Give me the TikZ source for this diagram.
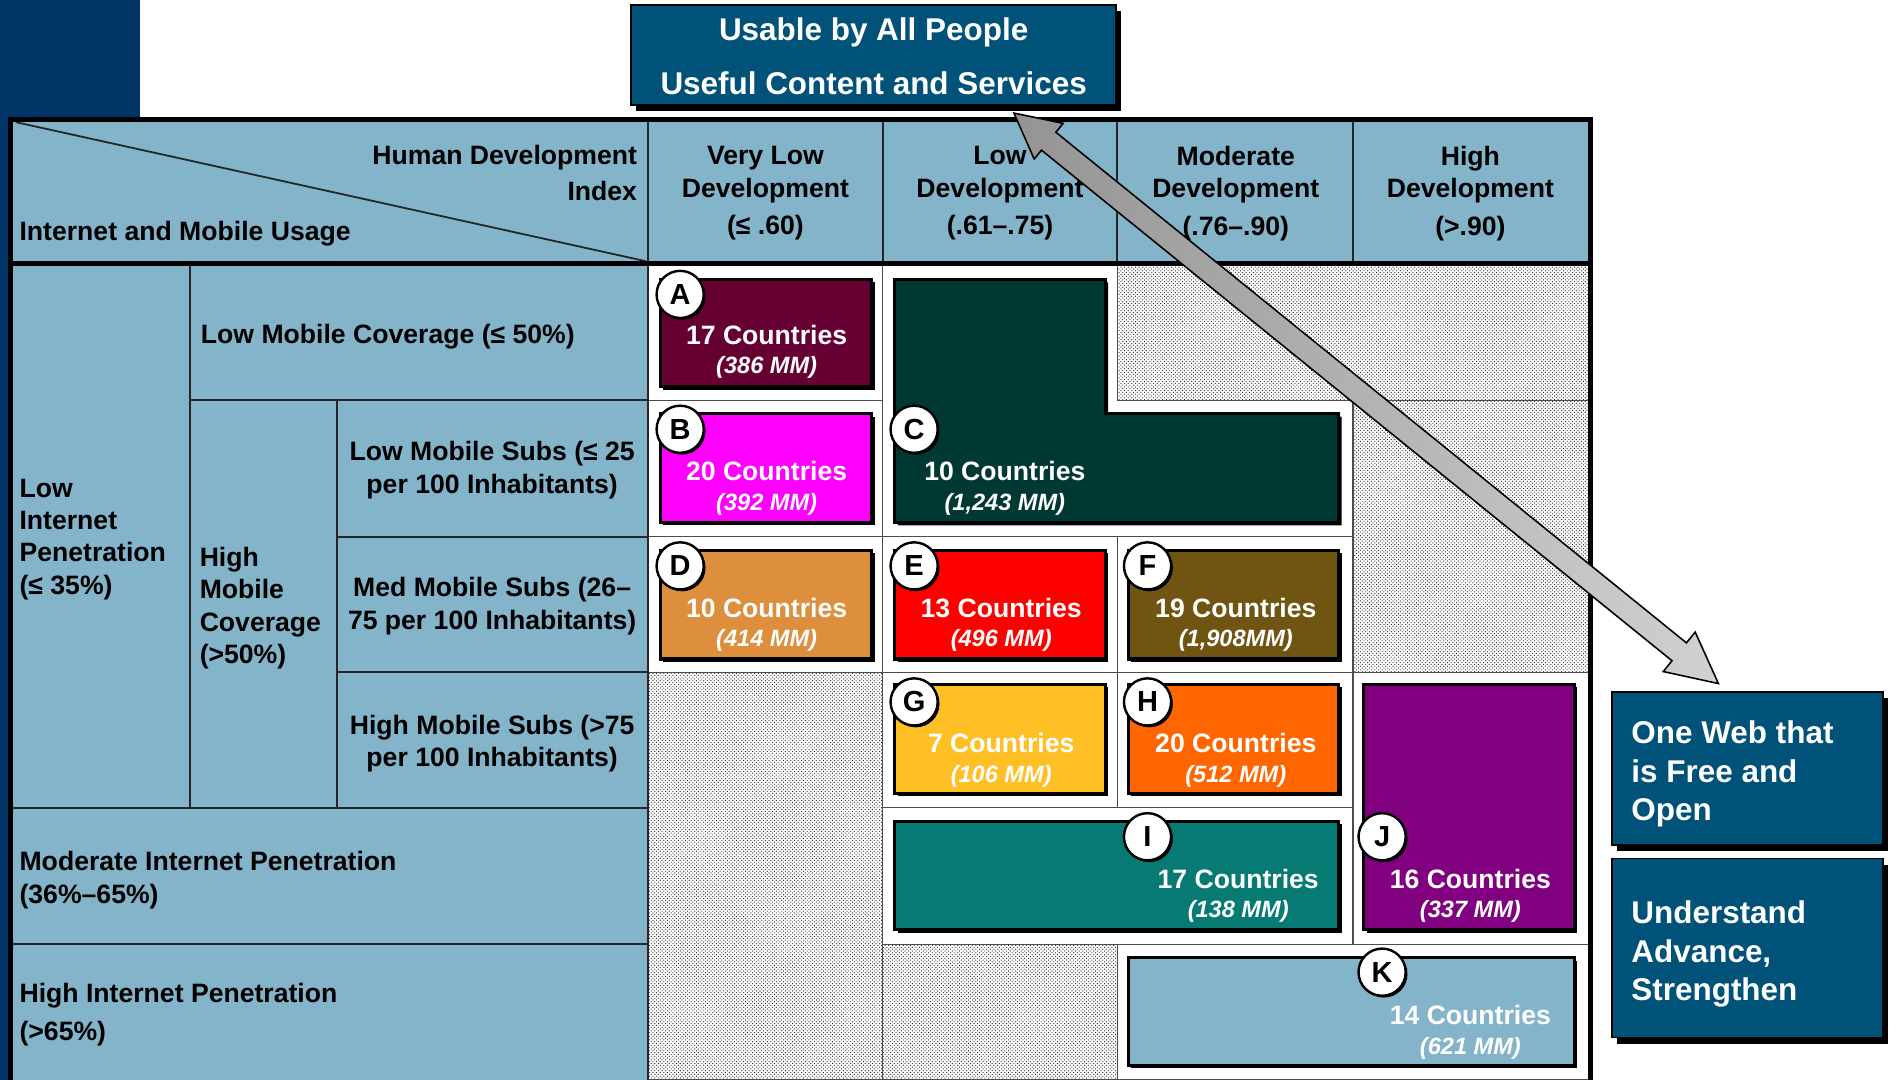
\documentclass[tikz,border=0pt]{standalone}
\usepackage{fontspec}
\setmainfont{Liberation Sans}
\usetikzlibrary{patterns}
\usetikzlibrary{shadows}

\definecolor{slidenavy}{RGB}{0,51,102}
\definecolor{hdrblue}{RGB}{132,180,202}
\definecolor{goalblue}{RGB}{0,82,120}
\definecolor{cA}{RGB}{102,0,51}
\definecolor{cB}{RGB}{255,0,255}
\definecolor{cC}{RGB}{0,56,52}
\definecolor{cD}{RGB}{221,143,62}
\definecolor{cE}{RGB}{255,0,0}
\definecolor{cF}{RGB}{112,84,18}
\definecolor{cG}{RGB}{255,192,38}
\definecolor{cH}{RGB}{255,102,0}
\definecolor{cI}{RGB}{8,122,116}
\definecolor{cJ}{RGB}{128,0,128}

\begin{document}
\begin{tikzpicture}[x=1pt,y=-1pt,
  cellw/.style={fill=white,draw=black!70,line width=1pt},
  celld/.style={pattern=crosshatch dots,pattern color=black!90,draw=black!70,line width=1pt},
  gridline/.style={draw=black!85,line width=1.5pt},
  cbox/.style={draw=black,line width=2.5pt,drop shadow={shadow xshift=2.5pt,shadow yshift=-2.5pt,fill=black,opacity=1}},
  goalbox/.style={fill=goalblue,draw=black,line width=1.5pt,drop shadow={shadow xshift=4pt,shadow yshift=-5pt,fill=black,opacity=1}},
  tag/.style={circle,fill=white,draw=black,line width=2pt,minimum size=39pt,inner sep=0pt,font=\fontsize{24}{24}\selectfont\bfseries,drop shadow={shadow xshift=1.5pt,shadow yshift=-1.5pt,fill=black,opacity=1}},
  cnt/.style={anchor=base,inner sep=0pt,text=white,font=\fontsize{22}{22}\selectfont\bfseries},
  mm/.style={anchor=base,inner sep=0pt,text=white,font=\fontsize{19.5}{19.5}\selectfont\bfseries\itshape},
  lbl/.style={inner sep=0pt,font=\fontsize{22}{27}\selectfont\bfseries},
  goaltxt/.style={inner sep=0pt,text=white,font=\fontsize{26}{32}\selectfont\bfseries}]
\useasboundingbox (0,0) rectangle (1568,893);
\fill[white] (0,0) rectangle (1568,893);
\fill[slidenavy] (0,0) rectangle (116,97);
\fill[slidenavy] (0,97) rectangle (8,893);

\fill[hdrblue] (9,99) rectangle (1315,218);
\fill[hdrblue] (9,218) rectangle (536,893);

\draw[celld] (924,218) rectangle (1315,331);
\draw[celld] (1119,331) rectangle (1315,556);
\draw[celld] (536,556) rectangle (730,893);
\draw[celld] (730,781) rectangle (924,893);
\draw[cellw] (536,218) rectangle (730,331);
\draw[cellw] (536,331) rectangle (730,444);
\draw[cellw] (536,444) rectangle (730,556);
\draw[cellw] (730,218) -- (924,218) -- (924,331) -- (1119,331) -- (1119,444) -- (730,444) -- cycle;
\draw[cellw] (730,444) rectangle (924,556);
\draw[cellw] (924,444) rectangle (1119,556);
\draw[cellw] (730,556) rectangle (924,668);
\draw[cellw] (924,556) rectangle (1119,668);
\draw[cellw] (730,668) rectangle (1119,781);
\draw[cellw] (1119,556) rectangle (1315,781);
\draw[cellw] (924,781) rectangle (1315,893);

\draw[gridline] (157,218) -- (157,668);
\draw[gridline] (279,331) -- (279,668);
\draw[gridline] (157,331) -- (536,331);
\draw[gridline] (279,444) -- (536,444);
\draw[gridline] (279,556) -- (536,556);
\draw[gridline] (9,668) -- (536,668);
\draw[gridline] (9,781) -- (536,781);
\draw[gridline] (536,99) -- (536,893);
\draw[gridline] (730,99) -- (730,218);
\draw[gridline] (924,99) -- (924,218);
\draw[gridline] (1119,99) -- (1119,218);
\draw[gridline] (13,101) -- (534,216);
\draw[black,line width=4pt] (9,893) -- (9,99) -- (1315,99) -- (1315,893);
\draw[black,line width=4pt] (9,218) -- (1315,218);

\draw[cbox,fill=cA] (546,231) rectangle (721,320);
\draw[cbox,fill=cB] (546,342) rectangle (721,432);
\draw[cbox,fill=cC] (740,231) -- (914,231) -- (914,342) -- (1107,342) -- (1107,432) -- (740,432) -- cycle;
\draw[cbox,fill=cD] (546,455) rectangle (721,545);
\draw[cbox,fill=cE] (740,455) rectangle (914,545);
\draw[cbox,fill=cF] (933,455) rectangle (1107,545);
\draw[cbox,fill=cG] (740,566) rectangle (914,656);
\draw[cbox,fill=cH] (933,566) rectangle (1107,656);
\draw[cbox,fill=cI] (740,679) rectangle (1107,769);
\draw[cbox,fill=cJ] (1128,566) rectangle (1302,769);
\draw[cbox,fill=hdrblue] (933,792) rectangle (1302,881);

\node[tag] (tA) at (562.5,243.5) {A};
\node[tag] (tB) at (562.5,355) {B};
\node[tag] (tC) at (756,355) {C};
\node[tag] (tD) at (562.5,468) {D};
\node[tag] (tE) at (756,468) {E};
\node[tag] (tF) at (949,468) {F};
\node[tag] (tG) at (756,580.5) {G};
\node[tag] (tH) at (949,580.5) {H};
\node[tag] (tI) at (949,692) {I};
\node[tag] (tJ) at (1143,692) {J};
\node[tag] (tK) at (1143,804) {K};

\node[cnt] (nA) at (634,284.5) {17 Countries};
\node[mm] (mA) at (634,309) {(386 MM)};
\node[cnt] (nB) at (634,397.5) {20 Countries};
\node[mm] (mB) at (634,422) {(392 MM)};
\node[cnt] (nC) at (831,397.5) {10 Countries};
\node[mm] (mC) at (831,422) {(1,243 MM)};
\node[cnt] (nD) at (634,510.5) {10 Countries};
\node[mm] (mD) at (634,535) {(414 MM)};
\node[cnt] (nE) at (828,510.5) {13 Countries};
\node[mm] (mE) at (828,535) {(496 MM)};
\node[cnt] (nF) at (1022,510.5) {19 Countries};
\node[mm] (mF) at (1022,535) {(1,908MM)};
\node[cnt] (nG) at (828,622.5) {7 Countries};
\node[mm] (mG) at (828,647) {(106 MM)};
\node[cnt] (nH) at (1022,622.5) {20 Countries};
\node[mm] (mH) at (1022,647) {(512 MM)};
\node[cnt] (nI) at (1024,734.5) {17 Countries};
\node[mm] (mI) at (1024,759) {(138 MM)};
\node[cnt] (nJ) at (1216,734.5) {16 Countries};
\node[mm] (mJ) at (1216,759) {(337 MM)};
\node[cnt] (nK) at (1216,847.5) {14 Countries};
\node[mm] (mK) at (1216,872) {(621 MM)};

\node[lbl,anchor=east,align=right,font=\fontsize{22}{30}\selectfont\bfseries] (hdi) at (527,143) {Human Development\\Index};
\node[lbl,anchor=base west] (usage) at (16,199) {Internet and Mobile Usage};
\node[lbl,align=center] (colVL) at (633,160) {Very Low\\Development\\[4pt](≤ .60)};
\node[lbl,align=center] (colL) at (827,160) {Low\\Development\\[4pt](.61–.75)};
\node[lbl,align=center] (colM) at (1022,160) {Moderate\\Development\\[4pt](.76–.90)};
\node[lbl,align=center] (colH) at (1216,160) {High\\Development\\[4pt](>.90)};

\node[lbl,anchor=west,align=left,font=\fontsize{22}{26.7}\selectfont\bfseries] (lowint) at (16,446) {Low\\Internet\\Penetration\\(≤ 35\%)};
\node[lbl,anchor=west,align=left,font=\fontsize{22}{26.7}\selectfont\bfseries] (highcov) at (165,503) {High\\Mobile\\Coverage\\(>50\%)};
\node[lbl,anchor=base west] (lowcov) at (166,284) {Low Mobile Coverage (≤ 50\%)};
\node[lbl,align=center] (lowsubs) at (407,389) {Low Mobile Subs (≤ 25\\per 100 Inhabitants)};
\node[lbl,align=center] (medsubs) at (407,501) {Med Mobile Subs (26–\\75 per 100 Inhabitants)};
\node[lbl,align=center] (highsubs) at (407,615) {High Mobile Subs (>75\\per 100 Inhabitants)};
\node[lbl,anchor=west,align=left] (modint) at (16,728) {Moderate Internet Penetration\\(36\%–65\%)};
\node[lbl,anchor=west,align=left,font=\fontsize{22}{32}\selectfont\bfseries] (highint) at (16,839) {High Internet Penetration\\(>65\%)};

\draw[goalbox] (522,4) rectangle (923,87);
\node[goaltxt,align=center,font=\fontsize{26}{45}\selectfont\bfseries] (usable) at (722.5,46.5) {Usable by All People\\Useful Content and Services};
\draw[goalbox] (1333,572) rectangle (1557,699);
\node[goaltxt,anchor=west,align=left] (oneweb) at (1349,640) {One Web that\\is Free and\\Open};
\draw[goalbox] (1333,710) rectangle (1557,858);
\node[goaltxt,anchor=west,align=left] (understand) at (1349,789) {Understand\\Advance,\\Strengthen};

\coordinate (tipT) at (838.5,93.5);
\coordinate (tipB) at (1421,565.5);
\begin{scope}[shift={(tipT)},rotate=-39.0]
\shadedraw[left color=black!42,right color=black!18,draw=black,line width=1.3pt] (0,0) -- (37,19) -- (37,9.5) -- (708,9.5) -- (708,21) -- (749.7,0) -- (708,-21) -- (708,-9.5) -- (37,-9.5) -- (37,-19) -- cycle;
\end{scope}

\end{tikzpicture}
\end{document}
